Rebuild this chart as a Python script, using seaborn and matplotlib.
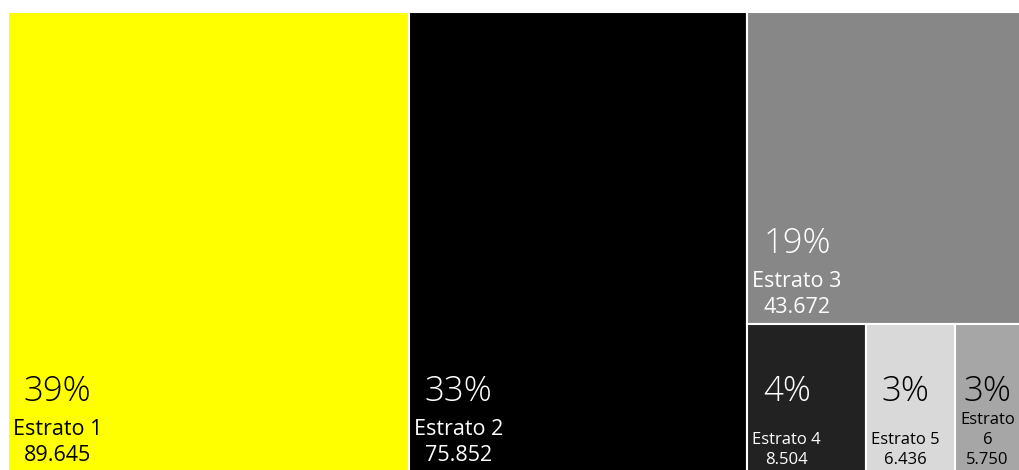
import matplotlib
matplotlib.use("Agg")
import matplotlib.pyplot as plt
import seaborn as sns
import numpy as np

categories = ["Estrato 1", "Estrato 2", "Estrato 3", "Estrato 4", "Estrato 5", "Estrato 6"]
values = [89645, 75852, 43672, 8504, 6436, 5750]
colors = ["#FFFF00", "#000000", "#878787", "#222222", "#D9D9D9", "#A6A6A6"]
text_colors = ["black", "white", "white", "white", "black", "black"]

sns.set_theme(style="white")
plt.rcParams["font.family"] = ["Open Sans", "DejaVu Sans"]

DPI = 100
W, H = 1019, 470
fig = plt.figure(figsize=(W / DPI, H / DPI), dpi=DPI)
ax = fig.add_axes([8 / W, -2 / H, 1027 / W, 460 / H])

total = float(sum(values))
# treemap layout (slice-and-dice) in value units, height 1
lefts, bottoms, widths, heights = [], [], [], []
x = 0.0
for v in values[:2]:
    lefts.append(x); bottoms.append(0.0); widths.append(v); heights.append(1.0)
    x += v
col_w = total - x
top_h = values[2] / col_w
lefts.append(x); bottoms.append(1 - top_h); widths.append(col_w); heights.append(top_h)
bot_h = 1 - top_h
bx = x
for v in values[3:]:
    w = v / bot_h
    lefts.append(bx); bottoms.append(0.0); widths.append(w); heights.append(bot_h)
    bx += w

ax.bar(lefts, heights, width=widths, bottom=bottoms, align="edge",
       color=colors, edgecolor="white", linewidth=1.5)
ax.set_xlim(0, total)
ax.set_ylim(0, 1)
ax.axis("off")

fig.canvas.draw()
renderer = fig.canvas.get_renderer()
px2pt = 72.0 / DPI


def fmt(v):
    return f"{v:,}".replace(",", ".")


for i, (cat, v) in enumerate(zip(categories, values)):
    x0, y0, w, h = lefts[i], bottoms[i], widths[i], heights[i]
    p0 = ax.transData.transform((x0, y0))
    p1 = ax.transData.transform((x0 + w, y0 + h))
    cell_w = min(p1[0], W) - p0[0]
    big = cell_w > 150
    fs = 15.5 if big else 12
    lab = ax.annotate(f"{cat}\n{fmt(v)}", xy=(x0, y0), xycoords="data",
                      xytext=(5 * px2pt, (6 if big else 4) * px2pt), textcoords="offset points",
                      ha="left", va="bottom", multialignment="center",
                      fontsize=fs, color=text_colors[i], linespacing=1.32)
    bb = lab.get_window_extent(renderer)
    if bb.width > cell_w - 6:
        lab.set_text(f"{cat.replace(' ', chr(10))}\n{fmt(v)}")
        bb = lab.get_window_extent(renderer)
    cx = (bb.x0 + bb.x1) / 2 - p0[0]
    pct = f"{round(v / total * 100 + 1e-9):.0f}%"
    ax.annotate(pct, xy=(x0, y0), xycoords="data",
                xytext=(cx * px2pt, 71 * px2pt), textcoords="offset points",
                ha="center", va="baseline", fontsize=25, fontweight="light",
                color=text_colors[i])

fig.savefig("out.png", dpi=DPI)
